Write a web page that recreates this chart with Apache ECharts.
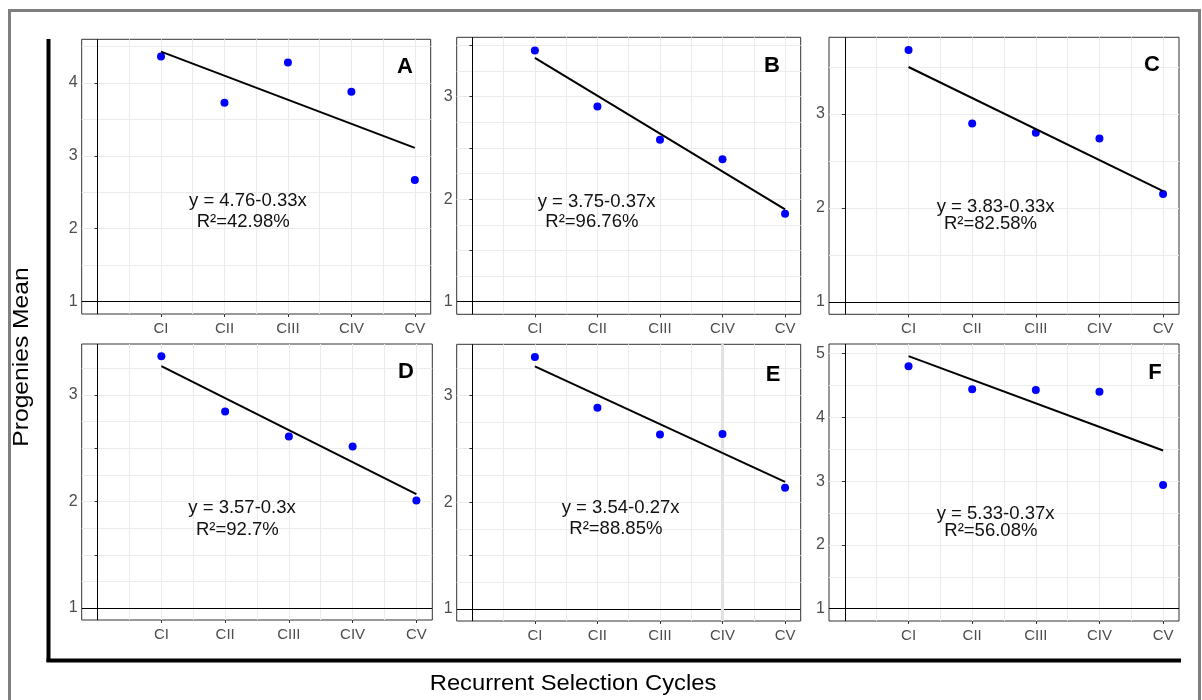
<!DOCTYPE html>
<html><head><meta charset="utf-8">
<script src="https://cdn.jsdelivr.net/npm/echarts@6/dist/echarts.min.js"></script>
<style>html,body{margin:0;padding:0;background:#fff}#c{width:1202px;height:700px}</style>
</head><body><div id="c"></div>
<script>
// ---------- data ----------
const categories = ['CI', 'CII', 'CIII', 'CIV', 'CV'];
const panelLetters = ['A', 'B', 'C', 'D', 'E', 'F'];

const meansA = [4.365, 3.73, 4.28, 3.88, 2.67];
const meansB = [3.45, 2.905, 2.58, 2.39, 1.857];
const meansC = [3.68, 2.90, 2.80, 2.74, 2.15];
const meansD = [3.363, 2.844, 2.61, 2.515, 2.01];
const meansE = [3.358, 2.884, 2.632, 2.638, 2.134];
const meansF = [4.80, 4.44, 4.43, 4.40, 2.94];

// fitted line values at CI and CV
const fitA = [4.43, 3.11];
const fitB = [3.38, 1.90];
const fitC = [3.50, 2.18];
const fitD = [3.27, 2.07];
const fitE = [3.27, 2.19];
const fitF = [4.96, 3.48];

const equations = ['y = 4.76-0.33x', 'y = 3.75-0.37x', 'y = 3.83-0.33x', 'y = 3.57-0.3x', 'y = 3.54-0.27x', 'y = 5.33-0.37x'];
const r2Labels = ['R²=42.98%', 'R²=96.76%', 'R²=82.58%', 'R²=92.7%', 'R²=88.85%', 'R²=56.08%'];

const yLabelsA = [1, 2, 3, 4];
const yLabelsB = [1, 2, 3];
const yLabelsC = [1, 2, 3];
const yLabelsD = [1, 2, 3];
const yLabelsE = [1, 2, 3];
const yLabelsF = [1, 2, 3, 4, 5];

const yTicksA = [1, 2, 3, 4];
const yTicksB = [1, 1.5, 2, 2.5, 3, 3.5];
const yTicksC = [1, 2, 3];
const yTicksD = [1, 1.5, 2, 2.5, 3];
const yTicksE = [1, 1.5, 2, 2.5, 3];
const yTicksF = [1, 2, 3, 4, 5];

const yGridA = [1, 1.5, 2, 2.5, 3, 3.5, 4, 4.5];
const yGridB = [1, 1.25, 1.5, 1.75, 2, 2.25, 2.5, 2.75, 3, 3.25, 3.5];
const yGridC = [1, 1.5, 2, 2.5, 3, 3.5];
const yGridD = [1, 1.25, 1.5, 1.75, 2, 2.25, 2.5, 2.75, 3, 3.25];
const yGridE = [1, 1.25, 1.5, 1.75, 2, 2.25, 2.5, 2.75, 3, 3.25];
const yGridF = [1, 1.5, 2, 2.5, 3, 3.5, 4, 4.5, 5];

const xTickValues = [1, 2, 3, 4, 5];
const xGridValues = [0.5, 1, 1.5, 2, 2.5, 3, 3.5, 4, 4.5, 5];

// ---------- layout / style ----------
const panels = [
  {means: meansA, fit: fitA, yMin: 0.83, yMax: 4.60, yLabels: yLabelsA, yTicks: yTicksA, yGrid: yGridA,
   box: {left: 81.7, top: 39.3, width: 349, height: 274.7}, letter: [405, 67], eq: [189, 201], r2: [196.7, 221.7]},
  {means: meansB, fit: fitB, yMin: 0.877, yMax: 3.58, yLabels: yLabelsB, yTicks: yTicksB, yGrid: yGridB,
   box: {left: 456.7, top: 37.3, width: 344, height: 277}, letter: [772, 66], eq: [537.7, 201.7], r2: [545.3, 222.3]},
  {means: meansC, fit: fitC, yMin: 0.87, yMax: 3.816, yLabels: yLabelsC, yTicks: yTicksC, yGrid: yGridC,
   box: {left: 829, top: 37.3, width: 350, height: 277}, letter: [1152, 65], eq: [936.7, 206.7], r2: [944, 224]},
  {means: meansD, fit: fitD, yMin: 0.888, yMax: 3.478, yLabels: yLabelsD, yTicks: yTicksD, yGrid: yGridD,
   box: {left: 81.7, top: 344, width: 350.6, height: 276}, letter: [406, 372], eq: [188.3, 507.7], r2: [196, 530]},
  {means: meansE, fit: fitE, yMin: 0.888, yMax: 3.477, yLabels: yLabelsE, yTicks: yTicksE, yGrid: yGridE,
   box: {left: 456.7, top: 344.3, width: 344, height: 276.7}, letter: [773, 375], eq: [561.7, 507.7], r2: [569.3, 529], band: 4},
  {means: meansF, fit: fitF, yMin: 0.807, yMax: 5.15, yLabels: yLabelsF, yTicks: yTicksF, yGrid: yGridF,
   box: {left: 829, top: 344, width: 350, height: 277}, letter: [1155, 373], eq: [936.7, 514.3], r2: [944.3, 531]}
];

const narrow = "'Liberation Sans Narrow', 'Liberation Sans', Arial, sans-serif";
const sans = "'Liberation Sans', Arial, sans-serif";
const gridColor = '#ebebeb';
const labelColor = '#4d4d4d';

const grid = [], xAxis = [], yAxis = [], series = [], graphic = [];

panels.forEach((p, i) => {
  grid.push(Object.assign({show: true, borderColor: '#333333', borderWidth: 1, backgroundColor: 'transparent', containLabel: false}, p.box));
  // primary axes: grid lines only
  xAxis.push({gridIndex: i, type: 'value', position: 'top', min: -0.25, max: 5.25,
    axisLine: {show: false}, axisTick: {show: false, customValues: xGridValues}, axisLabel: {show: false},
    splitLine: {show: true, lineStyle: {color: gridColor, width: 1}}});
  xAxis.push({gridIndex: i, type: 'value', position: 'bottom', min: -0.25, max: 5.25,
    axisLine: {show: false},
    axisTick: {show: true, length: 3, customValues: xTickValues, lineStyle: {color: '#333333'}},
    axisLabel: {customValues: xTickValues, formatter: v => categories[Math.round(v) - 1] || '',
      color: labelColor, fontSize: 15, fontFamily: narrow, margin: 7},
    splitLine: {show: false}});
  yAxis.push({gridIndex: i, type: 'value', position: 'right', min: p.yMin, max: p.yMax,
    axisLine: {show: false}, axisTick: {show: false, customValues: p.yGrid}, axisLabel: {show: false},
    splitLine: {show: true, lineStyle: {color: gridColor, width: 1}}});
  yAxis.push({gridIndex: i, type: 'value', position: 'left', min: p.yMin, max: p.yMax,
    axisLine: {show: false},
    axisTick: {show: true, length: 3, customValues: p.yTicks, lineStyle: {color: '#333333'}},
    axisLabel: {customValues: p.yLabels, formatter: v => String(Math.round(v)),
      color: labelColor, fontSize: 16, fontFamily: narrow, margin: 4},
    splitLine: {show: false}});

  const refLines = [
    {xAxis: 0, lineStyle: {color: '#000', width: 1, type: 'solid'}},
    {yAxis: 1, lineStyle: {color: '#000', width: 1, type: 'solid'}}
  ];
  if (p.band) refLines.push({xAxis: p.band, lineStyle: {color: '#e2e2e2', width: 3, type: 'solid'}});

  // helper series for reference lines
  series.push({type: 'line', xAxisIndex: 2 * i, yAxisIndex: 2 * i, data: [], z: 1, silent: true,
    markLine: {z: 1, silent: true, symbol: ['none', 'none'], label: {show: false}, animation: false, data: refLines}});
  series.push({type: 'scatter', xAxisIndex: 2 * i, yAxisIndex: 2 * i, z: 3, symbolSize: 8,
    itemStyle: {color: '#0000ff', opacity: 1},
    data: p.means.map((v, k) => [k + 1, v])});
  series.push({type: 'line', xAxisIndex: 2 * i, yAxisIndex: 2 * i, z: 4, symbol: 'none',
    lineStyle: {color: '#000', width: 2},
    data: [[1, p.fit[0]], [categories.length, p.fit[1]]]});

  graphic.push({type: 'text', x: p.letter[0], y: p.letter[1], z: 10,
    style: {text: panelLetters[i], font: 'bold 22px ' + sans, fill: '#000', textAlign: 'center', textVerticalAlign: 'middle'}});
  graphic.push({type: 'text', x: p.eq[0], y: p.eq[1], z: 10,
    style: {text: equations[i], font: '18.5px ' + sans, fill: '#111', textAlign: 'left', textVerticalAlign: 'middle'}});
  graphic.push({type: 'text', x: p.r2[0], y: p.r2[1], z: 10,
    style: {text: r2Labels[i], font: '18.5px ' + sans, fill: '#111', textAlign: 'left', textVerticalAlign: 'middle'}});
});

// frame and big axes
graphic.push({type: 'rect', z: 0, shape: {x: 9.5, y: 10.5, width: 1190, height: 720},
  style: {fill: 'none', stroke: '#7f7f7f', lineWidth: 3}});
graphic.push({type: 'line', z: 5, shape: {x1: 48.5, y1: 39, x2: 48.5, y2: 662},
  style: {stroke: '#000', lineWidth: 4}});
graphic.push({type: 'line', z: 5, shape: {x1: 46.5, y1: 660.5, x2: 1181, y2: 660.5},
  style: {stroke: '#000', lineWidth: 4}});
graphic.push({type: 'text', x: 22, y: 357, rotation: Math.PI / 2, scaleX: 1.12, z: 10,
  style: {text: 'Progenies Mean', font: '22px ' + sans, fill: '#000', textAlign: 'center', textVerticalAlign: 'middle'}});
graphic.push({type: 'text', x: 573, y: 684, scaleX: 1.08, z: 10,
  style: {text: 'Recurrent Selection Cycles', font: '22px ' + sans, fill: '#000', textAlign: 'center', textVerticalAlign: 'middle'}});

const chart = echarts.init(document.getElementById('c'), null, {renderer: 'canvas'});
chart.setOption({animation: false, backgroundColor: '#fff', grid, xAxis, yAxis, series, graphic});
</script>
</body></html>
